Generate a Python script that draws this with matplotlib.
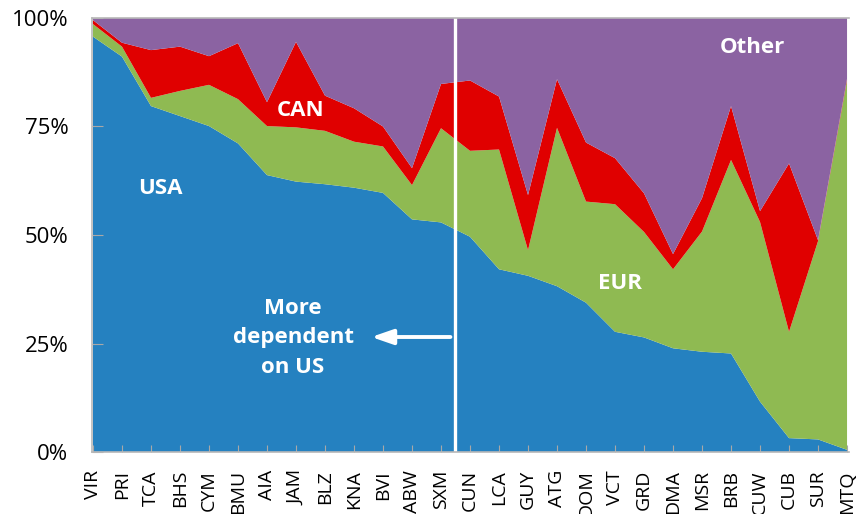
import matplotlib
matplotlib.use("Agg")
from matplotlib import pyplot as plt
import numpy as np

plt.rcParams['font.family'] = ['Open Sans', 'DejaVu Sans']

countries = ['VIR', 'PRI', 'TCA', 'BHS', 'CYM', 'BMU', 'AIA', 'JAM', 'BLZ', 'KNA',
             'BVI', 'ABW', 'SXM', 'CUN', 'LCA', 'GUY', 'ATG', 'DOM', 'VCT', 'GRD',
             'DMA', 'MSR', 'BRB', 'CUW', 'CUB', 'SUR', 'MTQ']
# доли, %
usa = [95.7, 91.1, 79.7, 77.4, 75.1, 71.1, 63.8, 62.3, 61.7, 60.9, 59.7, 53.6, 52.9,
       49.6, 42.1, 40.6, 38.2, 34.4, 27.7, 26.4, 23.9, 23.1, 22.7, 11.6, 3.2, 2.9, 0.5]
eur = [2.9, 2.3, 1.9, 5.8, 9.5, 10.2, 11.3, 12.5, 12.3, 10.6, 10.7, 7.9, 21.7,
       19.8, 27.6, 5.9, 36.5, 23.3, 29.4, 24.3, 18.2, 27.7, 44.6, 41.4, 24.5, 45.7, 85.1]
can = [0.9, 0.9, 11.0, 10.2, 6.6, 12.9, 5.5, 19.7, 8.1, 7.7, 4.6, 3.9, 10.2,
       16.2, 12.2, 12.7, 11.2, 13.6, 10.6, 8.9, 3.5, 7.7, 12.4, 2.5, 38.8, 0.2, 0.4]
other = [100 - a - b - c for a, b, c in zip(usa, eur, can)]

colors = ['#2581c0', '#8fba52', '#e00000', '#8b63a2']

fig = plt.figure(figsize=(8.62, 5.14), dpi=100)
ax = fig.add_axes([0.1067, 0.1206, 0.8783, 0.8444])
x = np.arange(len(countries))
ax.stackplot(x, usa, eur, can, other, colors=colors, linewidth=0)

ax.set_xlim(-0.035, len(countries) - 1 + 0.07)
ax.set_ylim(0, 100)
ax.set_xticks(x)
ax.set_xticklabels(countries, rotation=90, fontsize=14)
ax.set_yticks([0, 25, 50, 75, 100])
ax.set_yticklabels(['0%', '25%', '50%', '75%', '100%'], fontsize=16)
ax.tick_params(axis='x', direction='in', length=5, color='#a8a8a8', pad=13)
ax.tick_params(axis='y', direction='in', length=8, color='#a8a8a8', pad=17)
for s in ['left', 'bottom', 'top']:
    ax.spines[s].set_color('#b8b8b8')
    ax.spines[s].set_linewidth(1.2)
ax.spines['right'].set_visible(False)

# разделительная линия и стрелка
ax.axvline(12.48, color='white', lw=2.4)
ax.annotate('', xy=(9.5, 26.5), xytext=(12.42, 26.5),
            arrowprops=dict(arrowstyle='-|>,head_length=1.3,head_width=0.45', color='white', lw=2.8))
ax.text(6.9, 26.3, 'More\ndependent\non US', color='white', fontsize=16, fontweight='bold',
        ha='center', va='center', linespacing=1.55)

lbl = dict(color='white', fontsize=16, fontweight='bold', ha='center', va='center')
ax.text(2.31, 60.8, 'USA', **lbl)
ax.text(7.14, 78.8, 'CAN', **lbl)
ax.text(18.17, 38.9, 'EUR', **lbl)
ax.text(22.72, 93.1, 'Other', **lbl)

fig.savefig('out.png', dpi=100)
